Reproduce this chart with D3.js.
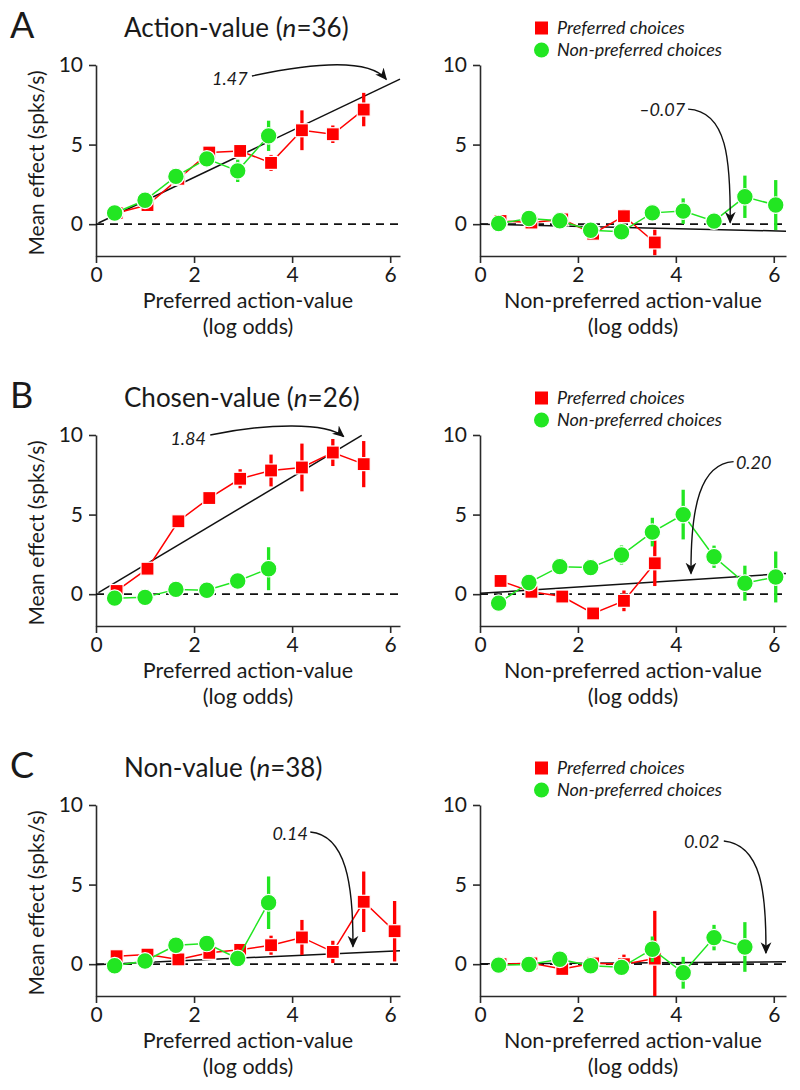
<!DOCTYPE html>
<html><head><meta charset="utf-8">
<script src="https://cdn.jsdelivr.net/npm/d3@7"></script>
<style>
body{margin:0;background:#fff}
svg{display:block}
text{font-family:Lato,"Open Sans",sans-serif;fill:#1a1a1a}
</style>
</head><body>
<svg id="chart" width="800" height="1090"></svg>
<script>
// ---------- data ----------
const xTicks = [0, 2, 4, 6];
const yTicks = [0, 5, 10];
const redX   = [0.42, 1.05, 1.68, 2.31, 2.94, 3.57, 4.20, 4.83, 5.46, 6.09];
const greenX = [0.38, 1.00, 1.63, 2.26, 2.89, 3.52, 4.15, 4.78, 5.41, 6.04];

const rowLetters = ["A", "B", "C"];
const rowTitles  = ["Action-value", "Chosen-value", "Non-value"];
const rowN       = [36, 26, 38];
const xLabels    = ["Preferred action-value", "Non-preferred action-value"];
const xSubLabel  = "(log odds)";
const yLabel     = "Mean effect (spks/s)";
const legendLabels = ["Preferred choices", "Non-preferred choices"];

// Action-value, preferred axis
const redA1   = [0.7, 1.2, 2.85, 4.5, 4.6, 3.85, 5.9, 5.65, 7.2];
const redA1e  = [0.15, 0.15, 0.2, 0.2, 0.4, 0.5, 1.25, 0.55, 1.05];
const greenA1 = [0.7, 1.5, 3.0, 4.1, 3.35, 5.55];
const greenA1e= [0.1, 0.2, 0.2, 0.2, 0.7, 0.95];
// Action-value, non-preferred axis
const redA2   = [0.2, 0.1, 0.3, -0.6, 0.5, -1.15];
const redA2e  = [0.15, 0.1, 0.15, 0.2, 0.45, 0.8];
const greenA2 = [0.04, 0.36, 0.21, -0.38, -0.48, 0.71, 0.82, 0.19, 1.72, 1.2];
const greenA2e= [0.1, 0.1, 0.1, 0.1, 0.15, 0.5, 0.8, 0.5, 1.33, 1.57];
// Chosen-value, preferred axis
const redB1   = [0.2, 1.6, 4.58, 6.04, 7.25, 7.77, 7.96, 8.9, 8.17];
const redB1e  = [0.15, 0.2, 0.2, 0.2, 0.6, 1.0, 1.5, 0.85, 1.45];
const greenB1 = [-0.25, -0.2, 0.3, 0.25, 0.83, 1.6];
const greenB1e= [0.1, 0.1, 0.1, 0.1, 0.5, 1.35];
// Chosen-value, non-preferred axis
const redB2   = [0.83, 0.15, -0.15, -1.21, -0.42, 1.94];
const redB2e  = [0.1, 0.1, 0.15, 0.2, 0.65, 1.43];
const greenB2 = [-0.56, 0.73, 1.73, 1.67, 2.46, 3.9, 5.0, 2.35, 0.69, 1.08];
const greenB2e= [0.15, 0.15, 0.15, 0.2, 0.6, 0.9, 1.56, 0.7, 1.1, 1.6];
// Non-value, preferred axis
const redC1   = [0.5, 0.6, 0.3, 0.71, 0.9, 1.19, 1.68, 0.77, 3.92, 2.07];
const redC1e  = [0.15, 0.15, 0.15, 0.2, 0.25, 0.6, 1.1, 0.7, 1.9, 1.9];
const greenC1 = [-0.1, 0.2, 1.19, 1.3, 0.36, 3.86];
const greenC1e= [0.1, 0.1, 0.15, 0.15, 0.45, 1.65];
// Non-value, non-preferred axis
const redC2   = [0.0, 0.05, -0.3, 0.05, 0.0, 0.35];
const redC2e  = [0.1, 0.1, 0.15, 0.15, 0.6, 3.0];
const greenC2 = [-0.06, -0.02, 0.31, -0.1, -0.2, 0.94, -0.54, 1.67, 1.08];
const greenC2e= [0.1, 0.1, 0.1, 0.1, 0.15, 0.8, 1.0, 0.8, 1.56];

// regression slopes (label), intercepts, x-extent of fit line
const slopes     = [1.47, -0.07, 1.84, 0.20, 0.14, 0.02];
const slopeText  = ["1.47", "\u20130.07", "1.84", "0.20", "0.14", "0.02"];
const intercepts = [0.0, 0.0, 0.0, 0.05, -0.03, 0.02];
const fitX0      = [0.05, 0, 0.05, 0, 0, 0];
const fitX1      = [6.2, 6.25, 5.42, 6.25, 6.2, 6.25];
// annotation label position and arrow (cubic) control points, in data units
const labelPos = [[2.73, 9.12], [3.72, 7.17], [1.88, 9.79], [5.59, 8.23], [3.96, 8.22], [4.53, 7.69]];
const arrowPts = [
  [[3.18, 9.31], [4.6, 10.25], [5.6, 10.3], [5.92, 9.1]],
  [[4.25, 7.23], [5.05, 7.1], [5.12, 4.0], [5.11, 0.1]],
  [[2.33, 10.0], [3.5, 10.75], [4.7, 10.8], [5.05, 9.9]],
  [[5.18, 8.33], [4.5, 8.2], [4.3, 5.5], [4.31, 1.3]],
  [[4.37, 8.3], [5.1, 8.1], [5.25, 5.0], [5.24, 1.1]],
  [[4.98, 7.74], [5.75, 7.5], [5.85, 4.5], [5.84, 0.7]]
];

const redSeries   = [[redA1, redA1e], [redA2, redA2e], [redB1, redB1e], [redB2, redB2e], [redC1, redC1e], [redC2, redC2e]];
const greenSeries = [[greenA1, greenA1e], [greenA2, greenA2e], [greenB1, greenB1e], [greenB2, greenB2e], [greenC1, greenC1e], [greenC2, greenC2e]];

// ---------- drawing ----------
const RED = "#ff0000", GREEN = "#22e622";
const FONT = 'Lato,"Open Sans",sans-serif';
const svg = d3.select("#chart");

svg.append("defs").append("marker")
  .attr("id", "ah").attr("viewBox", "0 0 10 10").attr("refX", 9).attr("refY", 5)
  .attr("markerWidth", 12).attr("markerHeight", 12).attr("markerUnits", "userSpaceOnUse")
  .attr("orient", "auto")
  .append("path").attr("d", "M0,0.5 L10,5 L0,9.5 L3,5 Z").attr("fill", "#111");

const rowOff = 370;
const colX = [[96, 400, 6.2], [480, 786, 6.25]];

for (let r = 0; r < 3; r++) {
  const oy = r * rowOff;
  // letter + title
  svg.append("text").attr("x", 10).attr("y", 38 + oy).attr("font-size", 36).text(rowLetters[r]);
  const t = svg.append("text").attr("x", 124).attr("y", 37 + oy).attr("font-size", 26);
  t.append("tspan").text(rowTitles[r] + " (");
  t.append("tspan").attr("font-style", "italic").text("n");
  t.append("tspan").text("=" + rowN[r] + ")");
  // legend
  const lg = svg.append("g");
  lg.append("rect").attr("x", 535).attr("y", 28 + oy - 6.5).attr("width", 13).attr("height", 13).attr("fill", RED);
  lg.append("circle").attr("cx", 541.5).attr("cy", 50 + oy).attr("r", 7.5).attr("fill", GREEN);
  legendLabels.forEach((s, i) => {
    lg.append("text").attr("x", 557).attr("y", 28 + 22 * i + oy).attr("dy", "0.35em")
      .attr("font-size", 18).attr("font-style", "italic").text(s);
  });
  // y label
  svg.append("text").attr("transform", `translate(37,${163 + oy}) rotate(-90)`)
    .attr("text-anchor", "middle").attr("dy", "0.35em").attr("font-size", 21).text(yLabel);

  for (let c = 0; c < 2; c++) {
    const p = r * 2 + c;
    const [x0, x1, xmax] = colX[c];
    const x = d3.scaleLinear().domain([0, xmax]).range([x0, x1]);
    const y = d3.scaleLinear().domain([-2, 10]).range([256 + oy, 65 + oy]);
    const g = svg.append("g");

    // axes
    const ax = g.append("g").attr("transform", `translate(0,${y(-2)})`)
      .call(d3.axisBottom(x).tickValues(xTicks).tickFormat(d3.format("d")).tickSize(7).tickSizeOuter(0).tickPadding(4));
    const ay = g.append("g").attr("transform", `translate(${x(0)},0)`)
      .call(d3.axisLeft(y).tickValues(yTicks).tickFormat(d3.format("d")).tickSize(7).tickSizeOuter(0).tickPadding(6));
    [ax, ay].forEach(a => {
      a.selectAll("path,line").attr("stroke", "#2a2a2a").attr("stroke-width", 1.6);
      a.selectAll("text").attr("font-size", 21).attr("fill", "#1a1a1a").style("font-family", FONT);
    });
    // x label, two lines
    g.append("text").attr("x", (x0 + x1) / 2).attr("y", 307.5 + oy).attr("text-anchor", "middle")
      .attr("font-size", 21.5).text(xLabels[c]);
    g.append("text").attr("x", (x0 + x1) / 2).attr("y", 333.5 + oy).attr("text-anchor", "middle")
      .attr("font-size", 21.5).text(xSubLabel);

    // zero dashed line
    g.append("line").attr("x1", x(0)).attr("x2", x(xmax)).attr("y1", y(0)).attr("y2", y(0))
      .attr("stroke", "#111").attr("stroke-width", 1.6).attr("stroke-dasharray", "8,6");
    // fit line
    g.append("line")
      .attr("x1", x(fitX0[p])).attr("y1", y(slopes[p] * fitX0[p] + intercepts[p]))
      .attr("x2", x(fitX1[p])).attr("y2", y(slopes[p] * fitX1[p] + intercepts[p]))
      .attr("stroke", "#111").attr("stroke-width", 1.5);

    const clipY = v => Math.max(-2, Math.min(10.5, v));
    function series(vals, errs, xs, color, shape) {
      const pts = vals.map((v, i) => ({ x: xs[i], y: v, e: errs[i] }));
      g.append("path").datum(pts)
        .attr("d", d3.line().x(d => x(d.x)).y(d => y(d.y)))
        .attr("fill", "none").attr("stroke", color).attr("stroke-width", 1.5);
      g.selectAll(null).data(pts).enter().append("line")
        .attr("x1", d => x(d.x)).attr("x2", d => x(d.x))
        .attr("y1", d => y(clipY(d.y - d.e))).attr("y2", d => y(clipY(d.y + d.e)))
        .attr("stroke", color).attr("stroke-width", 3.3);
      if (shape === "sq") {
        g.selectAll(null).data(pts).enter().append("rect")
          .attr("x", d => x(d.x) - 6.5).attr("y", d => y(d.y) - 6.5)
          .attr("width", 13).attr("height", 13)
          .attr("fill", color).attr("stroke", "#fff").attr("stroke-width", 1.2);
      } else {
        g.selectAll(null).data(pts).enter().append("circle")
          .attr("cx", d => x(d.x)).attr("cy", d => y(d.y)).attr("r", 8.3)
          .attr("fill", color).attr("stroke", "#fff").attr("stroke-width", 1.2);
      }
    }
    series(redSeries[p][0], redSeries[p][1], redX, RED, "sq");
    series(greenSeries[p][0], greenSeries[p][1], greenX, GREEN, "ci");

    // annotation
    const a = arrowPts[p];
    const path = d3.path();
    path.moveTo(x(a[0][0]), y(a[0][1]));
    path.bezierCurveTo(x(a[1][0]), y(a[1][1]), x(a[2][0]), y(a[2][1]), x(a[3][0]), y(a[3][1]));
    g.append("path").attr("d", path.toString()).attr("fill", "none")
      .attr("stroke", "#111").attr("stroke-width", 1.4).attr("marker-end", "url(#ah)");
    g.append("text").attr("x", x(labelPos[p][0])).attr("y", y(labelPos[p][1])).attr("dy", "0.35em")
      .attr("text-anchor", "middle").attr("font-size", 18).attr("font-style", "italic").text(slopeText[p]);
  }
}
</script>
</body></html>
